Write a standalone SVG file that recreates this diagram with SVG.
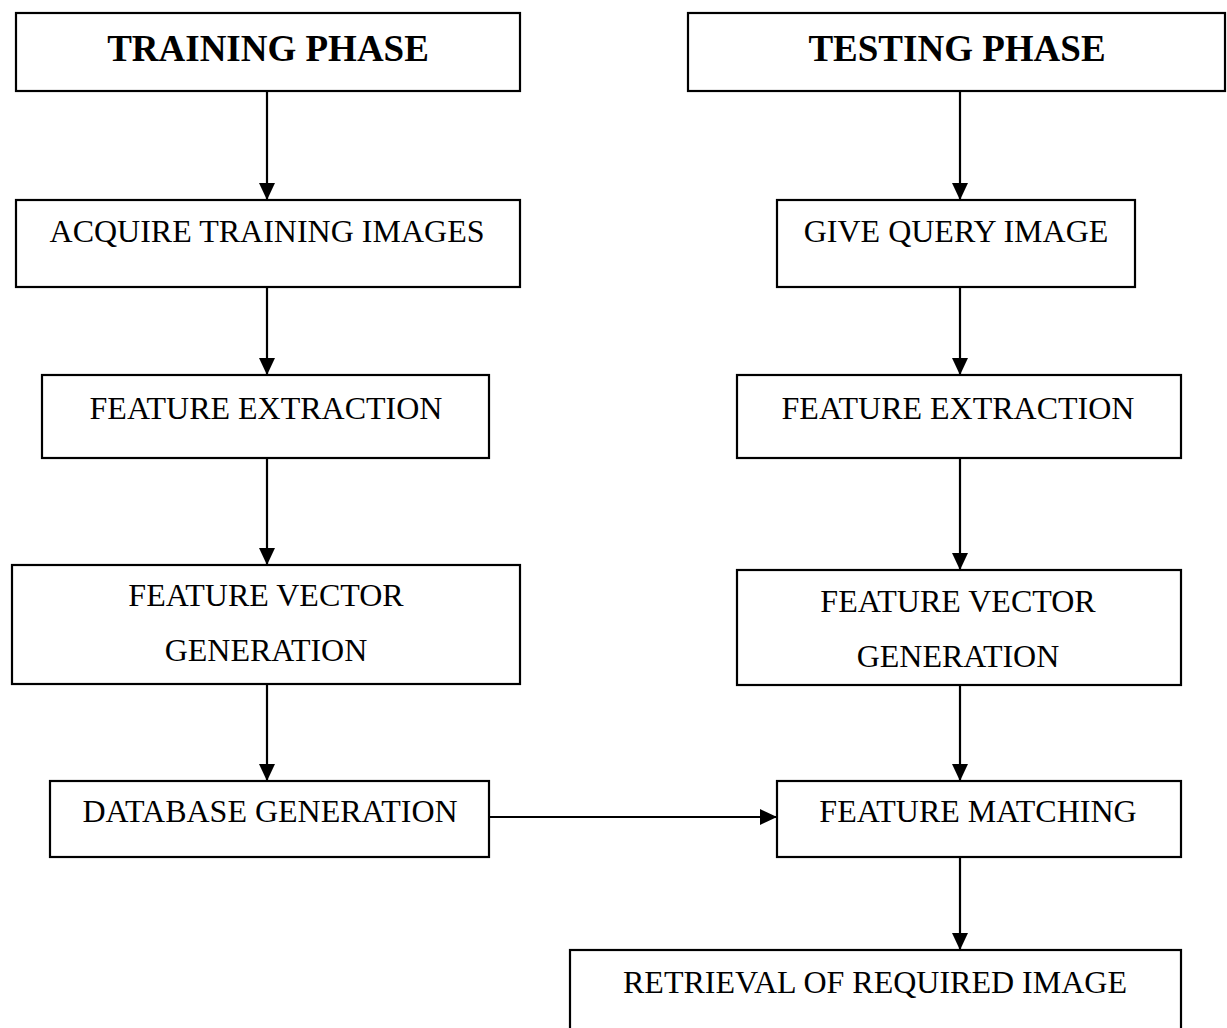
<svg xmlns="http://www.w3.org/2000/svg" width="1227" height="1028" viewBox="0 0 1227 1028">
<style>
.box{fill:#fff;stroke:#000;stroke-width:2.2}
.t{font-family:"Liberation Serif","Times New Roman",serif;font-size:32px;fill:#000;text-anchor:middle}
.h{font-family:"Liberation Serif","Times New Roman",serif;font-size:37px;font-weight:bold;fill:#000;text-anchor:middle}
.c{stroke:#000;stroke-width:2.2;fill:none;marker-end:url(#ah)}
</style>
<defs>
<marker id="ah" markerUnits="userSpaceOnUse" markerWidth="17" markerHeight="17" viewBox="0 0 17 17" refX="17" refY="8.5" orient="auto">
<path d="M0,0.5 L17,8.5 L0,16.5 Z" fill="#000"/>
</marker>
</defs>
<rect width="1227" height="1028" fill="#fff"/>
<g id="connectors">
<line class="c" x1="267" y1="91" x2="267" y2="200"/>
<line class="c" x1="960" y1="91" x2="960" y2="200"/>
<line class="c" x1="267" y1="287" x2="267" y2="375"/>
<line class="c" x1="960" y1="287" x2="960" y2="375"/>
<line class="c" x1="267" y1="458" x2="267" y2="565"/>
<line class="c" x1="960" y1="458" x2="960" y2="570"/>
<line class="c" x1="267" y1="684" x2="267" y2="781"/>
<line class="c" x1="960" y1="685" x2="960" y2="781"/>
<line class="c" x1="489" y1="817" x2="777" y2="817"/>
<line class="c" x1="960" y1="857" x2="960" y2="950"/>
</g>
<g id="training-phase"><rect class="box" x="16" y="13" width="504" height="78"/><text class="h" x="268" y="61">TRAINING PHASE</text></g>
<g id="testing-phase"><rect class="box" x="688" y="13" width="537" height="78"/><text class="h" x="957" y="61">TESTING PHASE</text></g>
<g id="acquire"><rect class="box" x="16" y="200" width="504" height="87"/><text class="t" x="267" y="242">ACQUIRE TRAINING IMAGES</text></g>
<g id="query"><rect class="box" x="777" y="200" width="358" height="87"/><text class="t" x="956" y="242">GIVE QUERY IMAGE</text></g>
<g id="fe-left"><rect class="box" x="42" y="375" width="447" height="83"/><text class="t" x="266" y="419">FEATURE EXTRACTION</text></g>
<g id="fe-right"><rect class="box" x="737" y="375" width="444" height="83"/><text class="t" x="958" y="419">FEATURE EXTRACTION</text></g>
<g id="fv-left"><rect class="box" x="12" y="565" width="508" height="119"/><text class="t" x="266" y="606">FEATURE VECTOR</text><text class="t" x="266" y="661">GENERATION</text></g>
<g id="fv-right"><rect class="box" x="737" y="570" width="444" height="115"/><text class="t" x="958" y="612">FEATURE VECTOR</text><text class="t" x="958" y="667">GENERATION</text></g>
<g id="database"><rect class="box" x="50" y="781" width="439" height="76"/><text class="t" x="270" y="822">DATABASE GENERATION</text></g>
<g id="matching"><rect class="box" x="777" y="781" width="404" height="76"/><text class="t" x="978" y="822">FEATURE MATCHING</text></g>
<g id="retrieval"><rect class="box" x="570" y="950" width="611" height="90"/><text class="t" x="875" y="993">RETRIEVAL OF REQUIRED IMAGE</text></g>
</svg>
